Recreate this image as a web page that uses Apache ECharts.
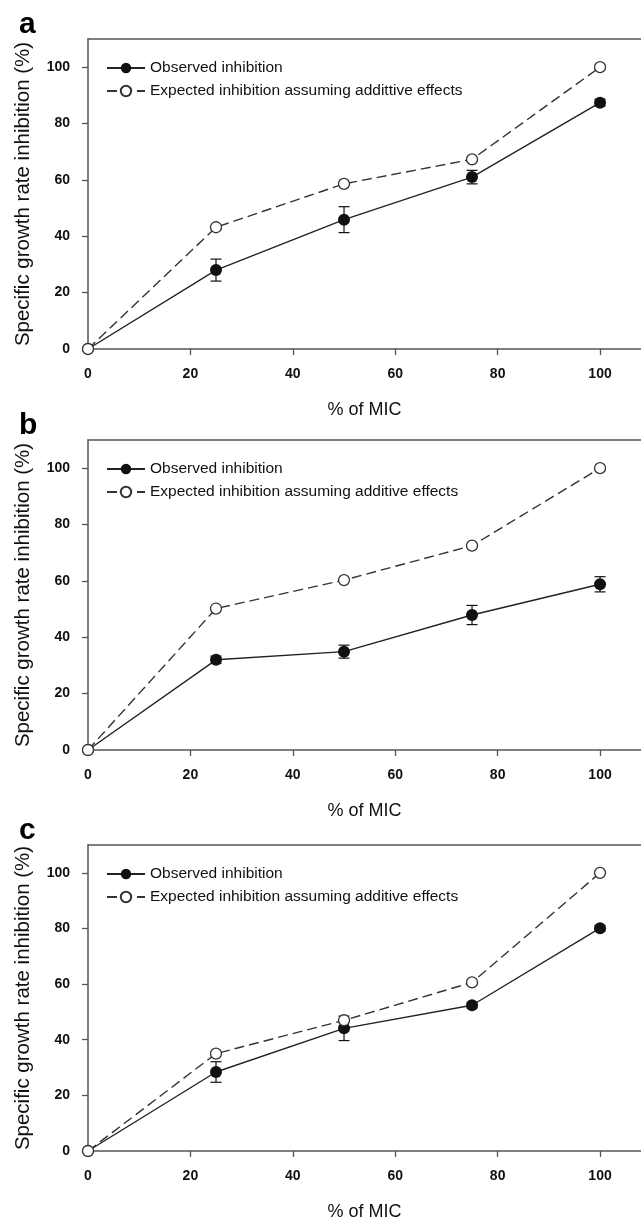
<!DOCTYPE html>
<html>
<head>
<meta charset="utf-8">
<title>Specific growth rate inhibition vs % of MIC</title>
<script src="https://cdn.jsdelivr.net/npm/echarts@6/dist/echarts.min.js"></script>
<style>
  html, body { margin: 0; padding: 0; background: #fff; }
  #chart { width: 641px; height: 1222px; }
</style>
</head>
<body>
<div id="chart"></div>
<script>
// x values (% of MIC) and tick values
const micPercent = [0, 25, 50, 75, 100]
const xTicks = [0, 20, 40, 60, 80, 100]
const yTicks = [0, 20, 40, 60, 80, 100]

// panel a
const observedA = [0, 28.0, 45.9, 61.0, 87.4]
const observedErrA = [0, 3.9, 4.6, 2.4, 1.2]
const expectedA = [0, 43.2, 58.6, 67.3, 100]

// panel b
const observedB = [0, 32.0, 34.9, 47.9, 58.8]
const observedErrB = [0, 1.3, 2.3, 3.4, 2.7]
const expectedB = [0, 50.2, 60.3, 72.5, 100]

// panel c
const observedC = [0, 28.4, 44.1, 52.4, 80.1]
const observedErrC = [0, 3.7, 4.4, 1.0, 1.0]
const expectedC = [0, 35.0, 47.0, 60.6, 100]

const panelLabels = ['a', 'b', 'c']
const observedName = 'Observed inhibition'
const expectedNames = [
  'Expected inhibition assuming addittive effects',
  'Expected inhibition assuming additive effects',
  'Expected inhibition assuming additive effects'
]
const xAxisTitle = '% of MIC'
const yAxisTitle = 'Specific growth rate inhibition (%)'

const panels = [
  { observed: observedA, err: observedErrA, expected: expectedA },
  { observed: observedB, err: observedErrB, expected: expectedB },
  { observed: observedC, err: observedErrC, expected: expectedC }
]

const font = 'Liberation Sans, Arial, Helvetica, sans-serif'
const axisColor = '#555'
const inkColor = '#111'
const gridTops = [39, 440, 845]
const gridHeight = 310
const gridLeft = 88

const renderErrorBar = (params, api) => {
  const x = api.value(0)
  const top = api.coord([x, api.value(2)])
  const bottom = api.coord([x, api.value(1)])
  const cap = 5.5
  const style = { stroke: inkColor, lineWidth: 1.2 }
  return {
    type: 'group',
    children: [
      { type: 'line', shape: { x1: top[0], y1: top[1], x2: bottom[0], y2: bottom[1] }, style },
      { type: 'line', shape: { x1: top[0] - cap, y1: top[1], x2: top[0] + cap, y2: top[1] }, style },
      { type: 'line', shape: { x1: bottom[0] - cap, y1: bottom[1], x2: bottom[0] + cap, y2: bottom[1] }, style }
    ]
  }
}

const grid = []
const xAxis = []
const yAxis = []
const series = []
const legend = []
const title = []

panels.forEach((p, i) => {
  grid.push({ left: gridLeft, top: gridTops[i], right: 0, height: gridHeight })

  xAxis.push({
    gridIndex: i,
    type: 'value',
    min: 0,
    max: 108,
    interval: 20,
    name: xAxisTitle,
    nameLocation: 'middle',
    nameGap: 52,
    nameTextStyle: { fontFamily: font, fontSize: 18, color: inkColor },
    splitLine: { show: false },
    axisLine: { show: true, onZero: false, lineStyle: { color: axisColor, width: 1.5 } },
    axisTick: { show: true, length: 6, customValues: xTicks, lineStyle: { color: axisColor, width: 1.3 } },
    axisLabel: { margin: 18, customValues: xTicks, fontFamily: font, fontSize: 14, fontWeight: 'bold', color: inkColor }
  })
  // top frame line
  xAxis.push({
    gridIndex: i,
    type: 'value',
    position: 'top',
    min: 0,
    max: 108,
    axisLine: { show: true, onZero: false, lineStyle: { color: axisColor, width: 1.5 } },
    axisTick: { show: false },
    axisLabel: { show: false },
    splitLine: { show: false }
  })

  yAxis.push({
    gridIndex: i,
    type: 'value',
    min: 0,
    max: 110,
    interval: 20,
    name: yAxisTitle,
    nameLocation: 'middle',
    nameGap: 54,
    nameTextStyle: { fontFamily: font, fontSize: 20.5, color: inkColor },
    splitLine: { show: false },
    axisLine: { show: true, onZero: false, lineStyle: { color: axisColor, width: 1.5 } },
    axisTick: { show: true, length: 6, customValues: yTicks, lineStyle: { color: axisColor, width: 1.3 } },
    axisLabel: { margin: 18, customValues: yTicks, fontFamily: font, fontSize: 14, fontWeight: 'bold', color: inkColor }
  })

  const xIdx = i * 2
  series.push({
    name: 'errors ' + panelLabels[i],
    type: 'custom',
    xAxisIndex: xIdx,
    yAxisIndex: i,
    renderItem: renderErrorBar,
    encode: { x: 0, y: [1, 2] },
    data: micPercent
      .map((x, k) => [x, p.observed[k] - p.err[k], p.observed[k] + p.err[k]])
      .filter((d, k) => p.err[k] > 0),
    z: 2,
    silent: true
  })
  series.push({
    name: observedName,
    type: 'line',
    xAxisIndex: xIdx,
    yAxisIndex: i,
    data: micPercent.map((x, k) => [x, p.observed[k]]),
    symbol: 'circle',
    symbolSize: 12,
    lineStyle: { color: '#222', width: 1.4 },
    itemStyle: { color: '#111' },
    z: 3
  })
  series.push({
    name: expectedNames[i],
    type: 'line',
    xAxisIndex: xIdx,
    yAxisIndex: i,
    data: micPercent.map((x, k) => [x, p.expected[k]]),
    symbol: 'circle',
    symbolSize: 11,
    lineStyle: { color: '#333', width: 1.4, type: [10, 5] },
    itemStyle: { color: '#fff', borderColor: '#333', borderWidth: 1.3 },
    z: 4
  })

  legend.push({
    orient: 'vertical',
    left: 106,
    top: gridTops[i] + 21,
    padding: 0,
    data: [observedName, expectedNames[i]],
    itemWidth: 38,
    itemHeight: 13,
    itemGap: 7,
    selectedMode: false,
    textStyle: { fontFamily: font, fontSize: 15.5, color: inkColor, lineHeight: 16 }
  })

  title.push({
    text: panelLabels[i],
    left: 14,
    top: gridTops[i] - 34,
    padding: 5,
    textStyle: { fontFamily: font, fontSize: 30, fontWeight: 'bold', color: '#000' }
  })
})

const chart = echarts.init(document.getElementById('chart'), null, { renderer: 'canvas' })
chart.setOption({
  animation: false,
  backgroundColor: '#fff',
  title,
  legend,
  grid,
  xAxis,
  yAxis,
  series
})

window.addEventListener('resize', () => chart.resize())
</script>
</body>
</html>
